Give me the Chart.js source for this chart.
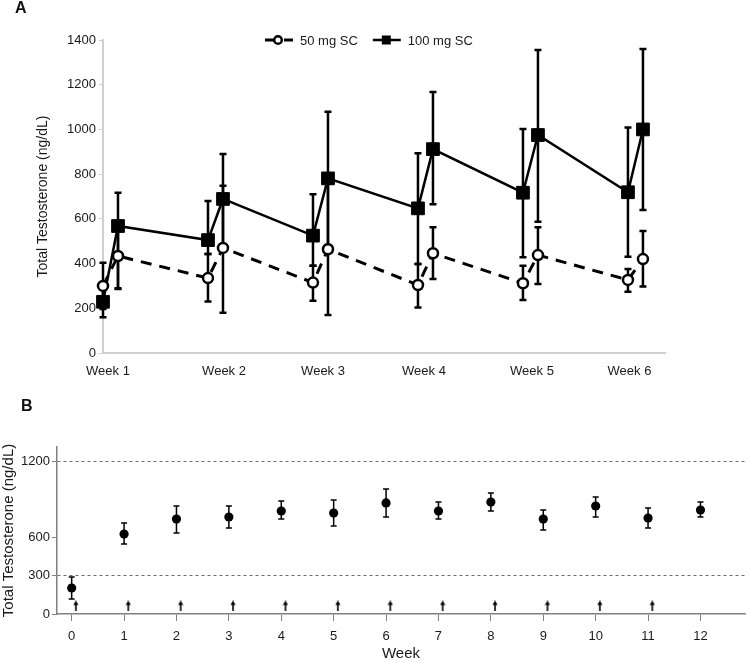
<!DOCTYPE html>
<html>
<head>
<meta charset="utf-8">
<script src="https://cdn.jsdelivr.net/npm/chart.js@4/dist/chart.umd.min.js"></script>
<style>
body{margin:0;background:#fff;width:750px;height:663px;position:relative;overflow:hidden;font-family:"Liberation Sans",Arial,sans-serif}
.tag{position:absolute;z-index:2;font-weight:bold;font-size:16px;line-height:18px;color:#111}
#chartA{position:absolute;left:0;top:0}
#chartB{position:absolute;left:0;top:385px}
</style>
</head>
<body>
<div class="tag" style="left:15px;top:-1px">A</div>
<div class="tag" style="left:21px;top:397px">B</div>
<canvas id="chartA" width="750" height="385"></canvas>
<canvas id="chartB" width="750" height="278"></canvas>
<script>
// panel A: trough (day 0 of each week) and peak (day 1) values
var days = [0, 1, 7, 8, 14, 15, 21, 22, 28, 29, 35, 36];
var weekLabels = ['Week 1', 'Week 2', 'Week 3', 'Week 4', 'Week 5', 'Week 6'];
var weekLabelAt = [0.33, 8.07, 14.67, 21.4, 28.6, 35.1];

var mg50   = [300, 434, 335, 470, 315, 464, 304, 446, 312, 438, 327, 420];
var mg50Lo = [197, 290, 230, 180, 234, 170, 204, 331, 237, 309, 274, 297];
var mg50Hi = [404, 560, 443, 748, 390, 758, 398, 562, 390, 562, 376, 546];

var mg100   = [229, 568, 505, 689, 525, 781, 647, 912, 717, 975, 719, 1000];
var mg100Lo = [160, 286, 443, 488, 390, 483, 398, 665, 428, 587, 431, 640];
var mg100Hi = [300, 717, 680, 890, 710, 1079, 893, 1167, 1002, 1355, 1009, 1360];

// panel B: weekly means with error bars, arrows = dosing weeks
var weeksB = [0, 1, 2, 3, 4, 5, 6, 7, 8, 9, 10, 11, 12];
var meanB  = [204, 627, 745, 761, 808, 792, 871, 808, 878, 745, 847, 753, 816];
var loB    = [118, 549, 635, 674, 745, 690, 761, 745, 808, 659, 761, 674, 761];
var hiB    = [290, 714, 847, 847, 886, 894, 980, 878, 949, 816, 918, 831, 878];
var doseWeeks = [0, 1, 2, 3, 4, 5, 6, 7, 8, 9, 10, 11];
var doseArrowY = 63;
var yTicksB = [0, 300, 600, 1200];
var refLevels = [300, 1200];

Chart.defaults.font.family = '"Liberation Sans", Arial, sans-serif';
Chart.defaults.color = '#1a1a1a';

// error bars drawn under the points
var errorBars = {
	id: 'errorBars',
	beforeDatasetsDraw: function(chart, args, opts) {
		var ctx = chart.ctx, ys = chart.scales.y;
		chart.data.datasets.forEach(function(ds, i) {
			if (!ds.errLo) return;
			var meta = chart.getDatasetMeta(i);
			ctx.save();
			ctx.strokeStyle = opts.color;
			ctx.lineWidth = opts.width;
			meta.data.forEach(function(pt, j) {
				var top = ys.getPixelForValue(ds.errHi[j]);
				var bot = ys.getPixelForValue(ds.errLo[j]);
				ctx.beginPath();
				ctx.moveTo(pt.x, top); ctx.lineTo(pt.x, bot);
				ctx.moveTo(pt.x - opts.cap, top); ctx.lineTo(pt.x + opts.cap, top);
				ctx.moveTo(pt.x - opts.cap, bot); ctx.lineTo(pt.x + opts.cap, bot);
				ctx.stroke();
			});
			ctx.restore();
		});
	}
};

// legend with line + marker, sitting at the top of the plot
var lineLegend = {
	id: 'lineLegend',
	afterDraw: function(chart, args, opts) {
		if (!opts.x) return;
		var ctx = chart.ctx, x = opts.x, y = opts.y;
		ctx.save();
		ctx.font = opts.font;
		ctx.textBaseline = 'middle';
		chart.data.datasets.forEach(function(ds) {
			ctx.strokeStyle = '#000';
			ctx.lineWidth = ds.borderWidth;
			ctx.setLineDash(ds.borderDash || []);
			ctx.beginPath(); ctx.moveTo(x, y); ctx.lineTo(x + 28, y); ctx.stroke();
			ctx.setLineDash([]);
			if (ds.pointStyle === 'rect') {
				ctx.fillStyle = '#000';
				ctx.fillRect(x + 9, y - 4.5, 9, 9);
			} else {
				ctx.fillStyle = '#fff';
				ctx.lineWidth = 2.5;
				ctx.beginPath(); ctx.arc(x + 13, y, 3.8, 0, Math.PI * 2); ctx.fill(); ctx.stroke();
			}
			ctx.fillStyle = '#1a1a1a';
			ctx.fillText(ds.label, x + 35, y + 1);
			x += 35 + ctx.measureText(ds.label).width + 15;
		});
		ctx.restore();
	}
};

function pts(xs, ys) {
	return xs.map(function(v, i) { return {x: v, y: ys[i]}; });
}
function plain(v) { return String(v); }

new Chart(document.getElementById('chartA'), {
	type: 'line',
	data: {
		datasets: [
		{label: '50 mg SC', data: pts(days, mg50), errLo: mg50Lo, errHi: mg50Hi,
		borderColor: '#000', borderWidth: 3, borderDash: [11, 8], pointStyle: 'circle',
		pointRadius: 5, pointBorderWidth: 2.5, pointBackgroundColor: '#fff', pointBorderColor: '#000',
		clip: false},
		{label: '100 mg SC', data: pts(days, mg100), errLo: mg100Lo, errHi: mg100Hi,
		borderColor: '#000', borderWidth: 2.5, pointStyle: 'rect',
		pointRadius: 9, pointBorderWidth: 1, pointBackgroundColor: '#000', pointBorderColor: '#000',
		clip: false}]
	},
	options: {
		responsive: false,
		animation: false,
		layout: {padding: {top: 40, right: 85, left: 0, bottom: 0}},
		plugins: {
			legend: {display: false},
			tooltip: {enabled: false},
			errorBars: {color: '#000', width: 2.5, cap: 3.5},
			lineLegend: {x: 265, y: 40, font: '13px "Liberation Sans", Arial, sans-serif'}
		},
		scales: {
			x: {
				type: 'linear', min: 0, max: 37.47,
				afterFit: function(s) { s.height = 32; },
				afterBuildTicks: function(s) { s.ticks = weekLabelAt.map(function(v) { return {value: v}; }); },
				ticks: {
					autoSkip: false, maxRotation: 0, padding: 11, font: {size: 13},
					callback: function(v, i) { return weekLabels[i]; }
				},
				grid: {display: false, drawTicks: false},
				border: {color: '#cfcfcf', width: 2}
			},
			y: {
				min: 0, max: 1400,
				afterFit: function(s) { s.width = 103; },
				ticks: {stepSize: 200, padding: 3, font: {size: 13}, callback: plain},
				grid: {drawOnChartArea: false, tickLength: 4, color: '#cfcfcf'},
				border: {color: '#cfcfcf', width: 2},
				title: {display: true, text: 'Total Testosterone (ng/dL)', font: {size: 14},
					padding: {top: 35, bottom: 0}}
			}
		}
	},
	plugins: [errorBars, lineLegend]
});

// small up arrow used as point style for dosing marks
function arrowImage() {
	var c = document.createElement('canvas');
	c.width = 6; c.height = 11;
	var g = c.getContext('2d');
	g.strokeStyle = '#000'; g.fillStyle = '#000'; g.lineWidth = 1.6;
	g.beginPath(); g.moveTo(3, 11); g.lineTo(3, 3); g.stroke();
	g.beginPath(); g.moveTo(0.4, 4.4); g.lineTo(3, 0); g.lineTo(5.6, 4.4); g.closePath(); g.fill();
	return c;
}

new Chart(document.getElementById('chartB'), {
	type: 'scatter',
	data: {
		datasets: [
		{label: 'Total testosterone', data: pts(weeksB, meanB), errLo: loB, errHi: hiB,
		pointRadius: 4.6, pointBackgroundColor: '#000', pointBorderWidth: 0, clip: false},
		{label: 'Dose', data: doseWeeks.map(function(w) { return {x: w + 0.08, y: doseArrowY}; }),
		pointStyle: arrowImage(), pointRadius: 3, clip: false}]
	},
	options: {
		responsive: false,
		animation: false,
		layout: {padding: {top: 62, right: 3, left: 0, bottom: 0}},
		plugins: {
			legend: {display: false},
			tooltip: {enabled: false},
			errorBars: {color: '#000', width: 1.5, cap: 3}
		},
		scales: {
			x: {
				type: 'linear', min: -0.28, max: 12.85,
				afterFit: function(s) { s.height = 49; },
				afterBuildTicks: function(s) { s.ticks = weeksB.map(function(v) { return {value: v}; }); },
				ticks: {autoSkip: false, maxRotation: 0, padding: 8, font: {size: 13}, callback: plain},
				grid: {drawOnChartArea: false, tickLength: 7, color: '#808080'},
				border: {color: '#808080', width: 1.5},
				title: {display: true, text: 'Week', font: {size: 15}, padding: {top: 0, bottom: 0}}
			},
			y: {
				min: 0, max: 1310,
				afterFit: function(s) { s.width = 57; },
				afterBuildTicks: function(s) { s.ticks = yTicksB.map(function(v) { return {value: v}; }); },
				ticks: {padding: 2, font: {size: 13}, callback: plain},
				grid: {
					tickLength: 5, tickColor: '#808080', lineWidth: 1,
					color: function(c) {
						return c.tick && refLevels.indexOf(c.tick.value) >= 0 ? '#6e6e6e' : 'rgba(0,0,0,0)';
					}
				},
				border: {color: '#808080', width: 1.5, dash: [3, 3]},
				title: {display: true, text: 'Total Testosterone (ng/dL)', font: {size: 15},
					padding: {top: 0, bottom: 0}}
			}
		}
	},
	plugins: [errorBars]
});
</script>
</body>
</html>
